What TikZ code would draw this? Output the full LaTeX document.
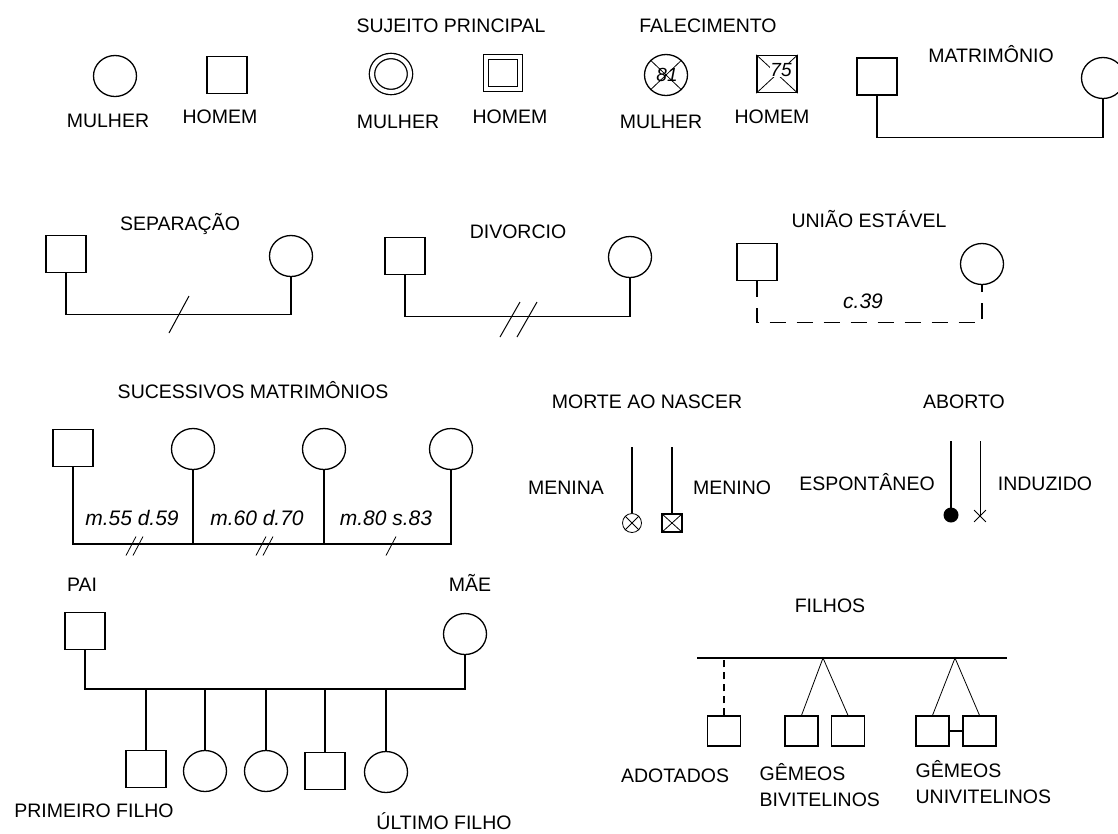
\documentclass[tikz,border=0pt]{standalone}
\usepackage{fontspec}
\setmainfont{Liberation Sans}
\usetikzlibrary{shapes.geometric,shapes.misc}

\begin{document}
\begin{tikzpicture}[x=1pt,y=-1pt, line width=1.3pt,
  fem/.style={draw, ellipse, minimum width=43pt, minimum height=41pt, inner sep=0pt},
  masc/.style={draw, rectangle, minimum width=40pt, minimum height=37pt, inner sep=0pt},
  kid/.style={draw, rectangle, minimum width=33pt, minimum height=30pt, inner sep=0pt},
  lbl/.style={font=\fontsize{19.5}{24}\selectfont, inner sep=0pt, anchor=base},
  lbll/.style={lbl, anchor=base west},
  note/.style={font=\fontsize{21}{24}\selectfont\itshape, inner sep=0pt, anchor=base},
  age/.style={font=\fontsize{19}{19}\selectfont\itshape, inner sep=0.5pt},
  thinline/.style={line width=0.8pt},
  slash/.style={line width=1pt},
]
\useasboundingbox (0,0) rectangle (1118,833);

% --- basic symbols
\node[fem] (f1) at (115,76) {};
\node[masc] (m1) at (227,75) {};
\node[lbl] (lf1) at (108,127) {MULHER};
\node[lbl] (lm1) at (220,123) {HOMEM};

% --- index person
\node[lbl] (tsuj) at (451,32) {SUJEITO PRINCIPAL};
\node[fem, double, double distance=4pt, minimum width=38pt, minimum height=36pt] (fsuj) at (391,74) {};
\node[masc, double, double distance=4pt, minimum width=34pt, minimum height=32pt] (msuj) at (503,73) {};
\node[lbl] (lf2) at (398,128) {MULHER};
\node[lbl] (lm2) at (510,123) {HOMEM};

% --- deceased
\node[lbl] (tfal) at (708,32) {FALECIMENTO};
\node[fem] (ffal) at (666,75) {};
\draw[thinline] (ffal.north west) -- (ffal.south east) (ffal.north east) -- (ffal.south west);
\node[age] (n81) at (667,75) {81};
\node[masc] (mfal) at (777,74) {};
\draw[thinline] (mfal.north west) -- (mfal.south east) (mfal.north east) -- (mfal.south west);
\node[age, fill=white] (n75) at (781,70) {75};
\node[lbl] (lf3) at (661,128) {MULHER};
\node[lbl] (lm3) at (772,123) {HOMEM};

% --- marriage
\node[lbl] (tmat) at (991,62) {MATRIMÔNIO};
\node[masc] (mmat) at (877,76.5) {};
\node[fem] (fmat) at (1103,78) {};
\draw (mmat.south) -- ++(0,42) -| (fmat.south);

% --- separation
\node[lbl] (tsep) at (180,230) {SEPARAÇÃO};
\node[masc] (msep) at (66,254) {};
\node[fem] (fsep) at (291,256) {};
\draw (msep.south) -- ++(0,41.5) -| (fsep.south);
\coordinate (ssep) at (179,314.5);
\draw[slash] (ssep) ++(-10,18.5) -- ++(20,-37);

% --- divorce
\node[lbl] (tdiv) at (518,238) {DIVORCIO};
\node[masc] (mdiv) at (405,256) {};
\node[fem] (fdiv) at (630,257) {};
\draw (mdiv.south) -- ++(0,41.5) -| (fdiv.south);
\coordinate (sdiv) at (510,319.5);
\draw[slash] (sdiv) ++(-10,17.5) -- ++(20,-35);
\draw[slash] (sdiv) ++(7,17.5) -- ++(20,-35);

% --- consensual union
\node[lbl] (tuni) at (869,227) {UNIÃO ESTÁVEL};
\node[masc] (muni) at (757,262) {};
\node[fem] (funi) at (982,264) {};
\draw[dash pattern=on 16pt off 11pt] (muni.south) -- ++(0,41.5) -| (funi.south);
\node[note] (c39) at (863,308) {c.39};

% --- successive marriages
\node[lbl] (tsuc) at (253,398) {SUCESSIVOS MATRIMÔNIOS};
\node[masc] (msuc) at (73,448) {};
\node[fem] (fs1) at (193,449) {};
\node[fem] (fs2) at (324,449) {};
\node[fem] (fs3) at (451,449) {};
\coordinate (sucbar) at (0,544);
\draw (msuc.south) |- (fs3.south |- sucbar) -- (fs3.south);
\foreach \n in {fs1,fs2} \draw (\n.south) -- (\n.south |- sucbar);
\node[note] (d1) at (132,525) {m.55 d.59};
\node[note] (d2) at (257,525) {m.60 d.70};
\node[note] (d3) at (386,525) {m.80 s.83};
\foreach \c in {131,138,261,268,391}
  \draw[thinline] (\c,546) ++(-5,9.5) -- ++(10,-19);

% --- stillbirth
\node[lbl] (tmorte) at (647,408) {MORTE AO NASCER};
\coordinate (mtop) at (0,447);
\node[draw, circle, minimum size=19pt, inner sep=0pt, thinline] (nmen) at (632,523) {};
\draw[thinline] (nmen.north west) -- (nmen.south east) (nmen.north east) -- (nmen.south west);
\node[draw, minimum width=20pt, minimum height=18pt, inner sep=0pt] (nmeo) at (672,523) {};
\draw[thinline] (nmeo.north west) -- (nmeo.south east) (nmeo.north east) -- (nmeo.south west);
\draw (nmen.north) -- (nmen.north |- mtop);
\draw (nmeo.north) -- (nmeo.north |- mtop);
\node[lbl] (lmen) at (566,494) {MENINA};
\node[lbl] (lmeo) at (732,494) {MENINO};

% --- abortion
\node[lbl] (tab) at (964,408) {ABORTO};
\coordinate (atop) at (0,441);
\node[circle, fill, minimum size=15pt, inner sep=0pt] (esp) at (951,515) {};
\node[cross out, draw, minimum size=11pt, inner sep=0pt, thinline] (ind) at (980,516) {};
\draw (esp.center) -- (esp.center |- atop);
\draw[thinline] (ind.center) -- (ind.center |- atop);
\node[lbl] (lesp) at (867,490) {ESPONTÂNEO};
\node[lbl] (lind) at (1045,490) {INDUZIDO};

% --- family with children
\node[lbl] (tpai) at (82,591) {PAI};
\node[lbl] (tmae) at (470,591) {MÃE};
\node[masc] (pai) at (85,631) {};
\node[fem] (mae) at (465,634) {};
\coordinate (famb) at (0,689);
\draw (pai.south) |- (mae.south |- famb) -- (mae.south);
\node[masc] (c1) at (146,769) {};
\node[fem] (c2) at (205,771) {};
\node[fem] (c3) at (266,771) {};
\node[masc] (c4) at (325,771) {};
\node[fem] (c5) at (386,772) {};
\foreach \c in {c1,c2,c3,c4,c5} \draw (\c.north) -- (\c.north |- famb);
\node[lbl] (lpri) at (94,817) {PRIMEIRO FILHO};
\node[lbl] (lult) at (444,829) {ÚLTIMO FILHO};

% --- children types
\node[lbl] (tfil) at (830,612) {FILHOS};
\coordinate (filL) at (697,658);
\coordinate (filR) at (1007,658);
\draw (filL) -- (filR);
\node[kid] (adot) at (724,731) {};
\draw[dash pattern=on 7pt off 5pt] (adot.north) -- (adot.north |- filL);
\node[kid] (bi1) at (801.5,731) {};
\node[kid] (bi2) at (848,731) {};
\coordinate (biA) at (823,658);
\draw[thinline] (bi1.north) -- (biA) -- (bi2.north);
\node[kid] (un1) at (932.5,731) {};
\node[kid] (un2) at (979.5,731) {};
\coordinate (unA) at (955,658);
\draw[thinline] (un1.north) -- (unA) -- (un2.north);
\draw (un1.east) -- (un2.west);
\node[lbl] (ladot) at (675,782) {ADOTADOS};
\node[lbll] (lbi1) at (759,780) {GÊMEOS};
\node[lbll] (lbi2) at (759,806) {BIVITELINOS};
\node[lbll] (lun1) at (915,777) {GÊMEOS};
\node[lbll] (lun2) at (915,803) {UNIVITELINOS};
\end{tikzpicture}
\end{document}
